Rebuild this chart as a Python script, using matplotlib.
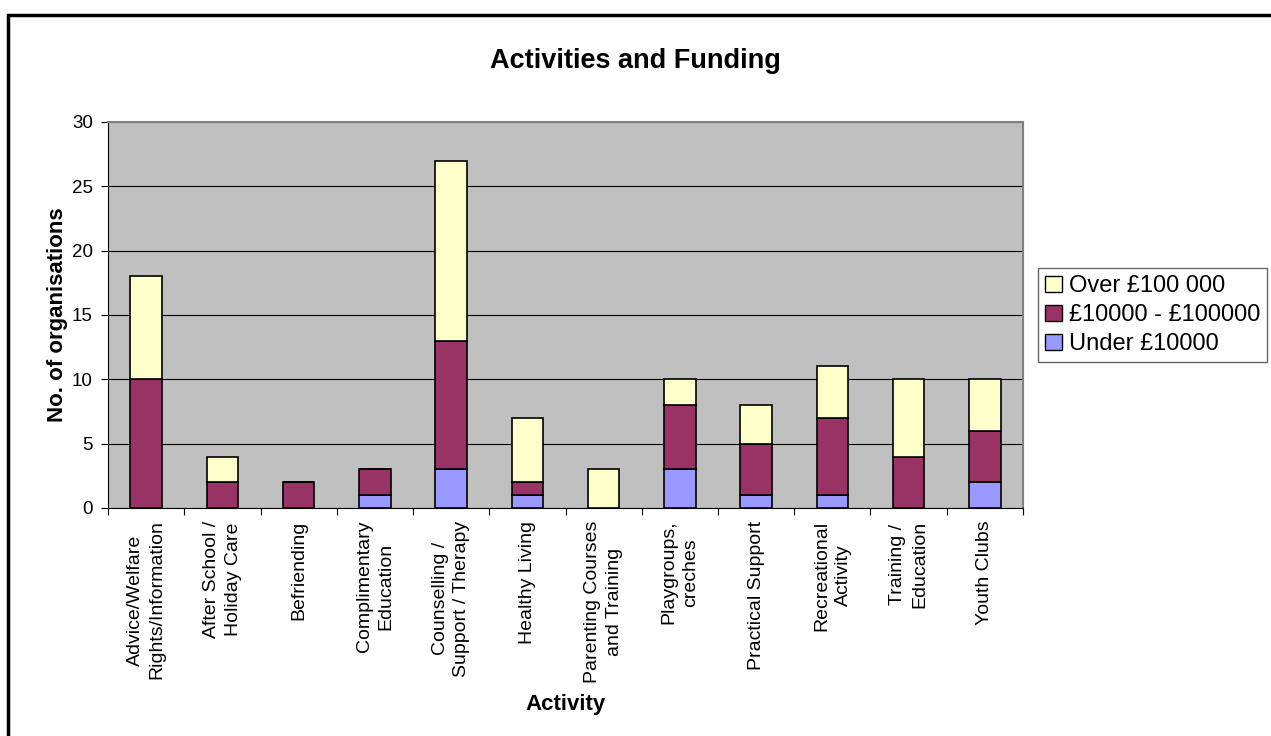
import matplotlib.pyplot as plt
import matplotlib.patches as mpatches
import numpy as np

plt.rcParams['font.family'] = ['Liberation Sans', 'DejaVu Sans']

# ---- Data ----
activities = [
    'Advice/Welfare\nRights/Information',
    'After School /\nHoliday Care',
    'Befriending',
    'Complimentary\nEducation',
    'Counselling /\nSupport / Therapy',
    'Healthy Living',
    'Parenting Courses\nand Training',
    'Playgroups,\ncreches',
    'Practical Support',
    'Recreational\nActivity',
    'Training /\nEducation',
    'Youth Clubs',
]
under_10k = [0, 0, 0, 1, 3, 1, 0, 3, 1, 1, 0, 2]
mid_10k_100k = [10, 2, 2, 2, 10, 1, 0, 5, 4, 6, 4, 4]
over_100k = [8, 2, 0, 0, 14, 5, 3, 2, 3, 4, 6, 4]
series_names = ['Under £10000', '£10000 - £100000', 'Over £100 000']
colors = ['#9999FF', '#993366', '#FFFFCC']

# ---- Plot ----
fig = plt.figure(figsize=(12.71, 7.36), dpi=100)
ax = fig.add_axes([108 / 1271, 1 - 508 / 736, 915 / 1271, 386 / 736])
ax.set_facecolor('#C0C0C0')

x = np.arange(len(activities))
bottom = np.zeros(len(activities))
for vals, name, col in zip([under_10k, mid_10k_100k, over_100k], series_names, colors):
    vals = np.array(vals, dtype=float)
    ax.bar(x, vals, width=0.41, bottom=bottom, color=col, edgecolor='black',
           linewidth=1.2, label=name, zorder=3)
    bottom += vals

ax.set_xlim(-0.5, len(activities) - 0.5)
ax.set_ylim(0, 30)
ax.set_yticks(range(0, 31, 5))
ax.yaxis.grid(True, color='black', linewidth=0.8, zorder=1)
ax.set_axisbelow(True)

# category boundary ticks, labels centered
ax.set_xticks(np.arange(-0.5, len(activities), 1.0))
ax.set_xticklabels([])
ax.set_xticks(x, minor=True)
ax.set_xticklabels(activities, minor=True, rotation=90, ha='center', va='top',
                   fontsize=14, multialignment='center', linespacing=1.35)
ax.tick_params(axis='x', which='minor', length=0, pad=9)
ax.tick_params(axis='x', which='major', direction='out', length=5, color='black')
ax.tick_params(axis='y', direction='out', length=5, labelsize=13.5, pad=6)

for side in ['top', 'right']:
    ax.spines[side].set_color('#808080')
    ax.spines[side].set_linewidth(1.5)
ax.spines['left'].set_color('black')
ax.spines['bottom'].set_color('black')

ax.set_ylabel('No. of organisations', fontsize=16, fontweight='bold', labelpad=3)
ax.set_xlabel('Activity', fontsize=16, fontweight='bold', labelpad=8)
fig.text(0.5, 1 - 61 / 736, 'Activities and Funding', ha='center', va='center',
         fontsize=19.5, fontweight='bold')

handles = [mpatches.Patch(facecolor=c, edgecolor='black', linewidth=1.0)
           for c in colors][::-1]
leg = fig.legend(handles, series_names[::-1], loc='upper left',
                 bbox_to_anchor=(1038 / 1271, 1 - 268 / 736), fontsize=17,
                 frameon=True, fancybox=False, edgecolor='#404040',
                 handlelength=0.7, handleheight=0.7, handletextpad=0.3,
                 borderpad=0.3, labelspacing=0.3, borderaxespad=0)
leg.get_frame().set_linewidth(1.0)

# outer chart border
fig.patches.append(mpatches.Rectangle((8 / 1271, -0.05), 1.2, 1 - 15 / 736 + 0.05,
                                      transform=fig.transFigure, fill=False,
                                      edgecolor='black', linewidth=2.5))

fig.savefig('out.png', dpi=100)
plt.close(fig)
